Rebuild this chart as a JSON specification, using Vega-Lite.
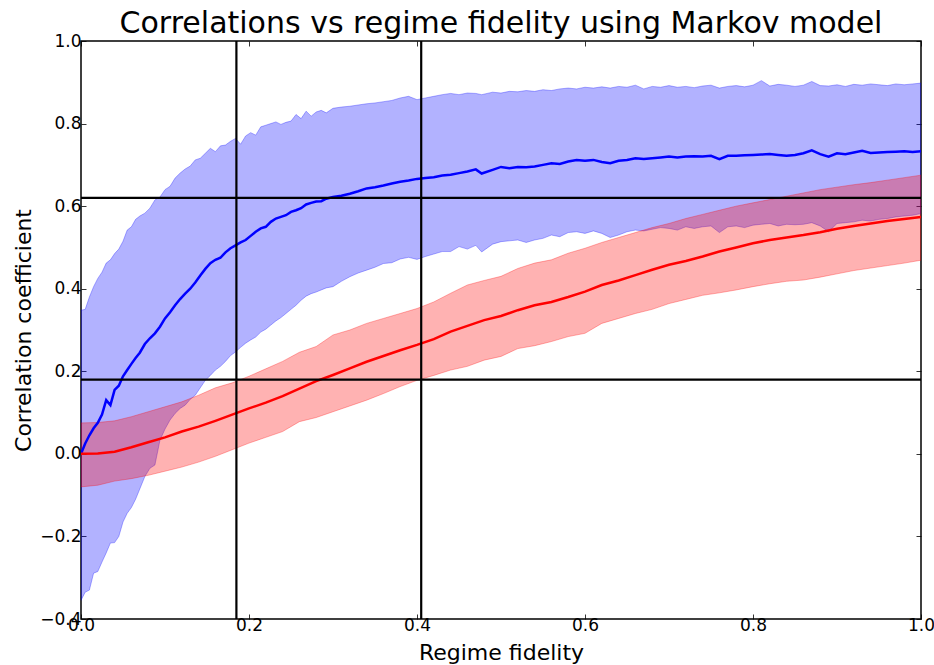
{
  "$schema": "https://vega.github.io/schema/vega-lite/v6.json",
  "width": 840,
  "height": 578,
  "autosize": "none",
  "padding": {"left": 81, "top": 41, "right": 13, "bottom": 46},
  "background": "white",
  "title": {"text": "Correlations vs regime fidelity using Markov model", "fontSize": 30, "font": "DejaVu Sans", "fontWeight": "normal", "color": "black", "anchor": "middle", "offset": 6, "dy": 13},
  "config": {
    "font": "DejaVu Sans",
    "view": {"stroke": "black", "strokeWidth": 1.5}
  },
  "datasets": {
    "blue": [
      {"x":0.000,"m":0.000,"lo":-0.355,"hi":0.348},{"x":0.005,"m":0.025,"lo":-0.335,"hi":0.350},{"x":0.010,"m":0.045,"lo":-0.330,"hi":0.380},{"x":0.015,"m":0.062,"lo":-0.289,"hi":0.405},{"x":0.020,"m":0.075,"lo":-0.285,"hi":0.425},{"x":0.025,"m":0.095,"lo":-0.262,"hi":0.440},{"x":0.030,"m":0.130,"lo":-0.240,"hi":0.462},{"x":0.035,"m":0.118,"lo":-0.216,"hi":0.470},{"x":0.040,"m":0.155,"lo":-0.215,"hi":0.485},{"x":0.045,"m":0.165,"lo":-0.200,"hi":0.496},{"x":0.050,"m":0.188,"lo":-0.165,"hi":0.515},{"x":0.055,"m":0.203,"lo":-0.144,"hi":0.542},{"x":0.060,"m":0.218,"lo":-0.130,"hi":0.550},{"x":0.065,"m":0.232,"lo":-0.110,"hi":0.568},{"x":0.070,"m":0.245,"lo":-0.085,"hi":0.576},{"x":0.076,"m":0.266,"lo":-0.055,"hi":0.583},{"x":0.082,"m":0.280,"lo":-0.035,"hi":0.595},{"x":0.088,"m":0.292,"lo":-0.027,"hi":0.615},{"x":0.094,"m":0.308,"lo":0.033,"hi":0.622},{"x":0.100,"m":0.328,"lo":0.060,"hi":0.640},{"x":0.106,"m":0.343,"lo":0.082,"hi":0.648},{"x":0.112,"m":0.360,"lo":0.098,"hi":0.668},{"x":0.118,"m":0.375,"lo":0.110,"hi":0.680},{"x":0.124,"m":0.388,"lo":0.118,"hi":0.690},{"x":0.130,"m":0.400,"lo":0.132,"hi":0.697},{"x":0.136,"m":0.415,"lo":0.142,"hi":0.712},{"x":0.142,"m":0.432,"lo":0.160,"hi":0.716},{"x":0.148,"m":0.448,"lo":0.178,"hi":0.728},{"x":0.154,"m":0.462,"lo":0.190,"hi":0.740},{"x":0.160,"m":0.470,"lo":0.203,"hi":0.732},{"x":0.166,"m":0.475,"lo":0.212,"hi":0.746},{"x":0.172,"m":0.488,"lo":0.224,"hi":0.748},{"x":0.178,"m":0.498,"lo":0.238,"hi":0.757},{"x":0.184,"m":0.505,"lo":0.247,"hi":0.764},{"x":0.190,"m":0.512,"lo":0.258,"hi":0.750},{"x":0.196,"m":0.518,"lo":0.268,"hi":0.770},{"x":0.202,"m":0.528,"lo":0.276,"hi":0.778},{"x":0.208,"m":0.538,"lo":0.283,"hi":0.772},{"x":0.214,"m":0.546,"lo":0.295,"hi":0.792},{"x":0.220,"m":0.550,"lo":0.302,"hi":0.796},{"x":0.226,"m":0.562,"lo":0.312,"hi":0.800},{"x":0.232,"m":0.570,"lo":0.322,"hi":0.804},{"x":0.238,"m":0.574,"lo":0.330,"hi":0.798},{"x":0.244,"m":0.578,"lo":0.340,"hi":0.803},{"x":0.250,"m":0.586,"lo":0.350,"hi":0.806},{"x":0.256,"m":0.590,"lo":0.360,"hi":0.822},{"x":0.262,"m":0.595,"lo":0.372,"hi":0.812},{"x":0.268,"m":0.604,"lo":0.382,"hi":0.830},{"x":0.274,"m":0.608,"lo":0.388,"hi":0.818},{"x":0.280,"m":0.611,"lo":0.392,"hi":0.828},{"x":0.286,"m":0.612,"lo":0.397,"hi":0.832},{"x":0.292,"m":0.618,"lo":0.402,"hi":0.826},{"x":0.300,"m":0.622,"lo":0.405,"hi":0.837},{"x":0.310,"m":0.625,"lo":0.418,"hi":0.840},{"x":0.320,"m":0.630,"lo":0.429,"hi":0.842},{"x":0.330,"m":0.636,"lo":0.438,"hi":0.845},{"x":0.340,"m":0.643,"lo":0.445,"hi":0.848},{"x":0.350,"m":0.646,"lo":0.452,"hi":0.850},{"x":0.360,"m":0.650,"lo":0.461,"hi":0.853},{"x":0.370,"m":0.655,"lo":0.463,"hi":0.856},{"x":0.380,"m":0.659,"lo":0.472,"hi":0.862},{"x":0.390,"m":0.662,"lo":0.476,"hi":0.866},{"x":0.400,"m":0.666,"lo":0.471,"hi":0.858},{"x":0.410,"m":0.668,"lo":0.478,"hi":0.862},{"x":0.420,"m":0.670,"lo":0.484,"hi":0.866},{"x":0.430,"m":0.674,"lo":0.490,"hi":0.870},{"x":0.440,"m":0.676,"lo":0.490,"hi":0.873},{"x":0.450,"m":0.680,"lo":0.502,"hi":0.870},{"x":0.460,"m":0.684,"lo":0.496,"hi":0.874},{"x":0.470,"m":0.689,"lo":0.505,"hi":0.873},{"x":0.477,"m":0.679,"lo":0.489,"hi":0.870},{"x":0.490,"m":0.688,"lo":0.508,"hi":0.876},{"x":0.500,"m":0.695,"lo":0.514,"hi":0.874},{"x":0.510,"m":0.692,"lo":0.516,"hi":0.878},{"x":0.520,"m":0.695,"lo":0.518,"hi":0.877},{"x":0.530,"m":0.694,"lo":0.512,"hi":0.880},{"x":0.540,"m":0.696,"lo":0.518,"hi":0.878},{"x":0.550,"m":0.700,"lo":0.522,"hi":0.882},{"x":0.560,"m":0.704,"lo":0.530,"hi":0.880},{"x":0.570,"m":0.702,"lo":0.526,"hi":0.884},{"x":0.580,"m":0.708,"lo":0.536,"hi":0.886},{"x":0.590,"m":0.712,"lo":0.538,"hi":0.884},{"x":0.600,"m":0.710,"lo":0.534,"hi":0.888},{"x":0.610,"m":0.712,"lo":0.540,"hi":0.886},{"x":0.620,"m":0.707,"lo":0.534,"hi":0.889},{"x":0.630,"m":0.704,"lo":0.524,"hi":0.886},{"x":0.640,"m":0.710,"lo":0.530,"hi":0.890},{"x":0.650,"m":0.712,"lo":0.538,"hi":0.888},{"x":0.660,"m":0.716,"lo":0.542,"hi":0.893},{"x":0.670,"m":0.714,"lo":0.540,"hi":0.884},{"x":0.680,"m":0.716,"lo":0.544,"hi":0.890},{"x":0.690,"m":0.718,"lo":0.548,"hi":0.888},{"x":0.700,"m":0.720,"lo":0.546,"hi":0.892},{"x":0.710,"m":0.718,"lo":0.542,"hi":0.888},{"x":0.720,"m":0.720,"lo":0.550,"hi":0.890},{"x":0.730,"m":0.721,"lo":0.546,"hi":0.887},{"x":0.740,"m":0.720,"lo":0.550,"hi":0.891},{"x":0.750,"m":0.722,"lo":0.552,"hi":0.893},{"x":0.760,"m":0.714,"lo":0.536,"hi":0.886},{"x":0.770,"m":0.722,"lo":0.550,"hi":0.890},{"x":0.780,"m":0.722,"lo":0.552,"hi":0.892},{"x":0.790,"m":0.723,"lo":0.548,"hi":0.889},{"x":0.800,"m":0.724,"lo":0.554,"hi":0.893},{"x":0.810,"m":0.725,"lo":0.556,"hi":0.904},{"x":0.820,"m":0.726,"lo":0.558,"hi":0.891},{"x":0.830,"m":0.724,"lo":0.552,"hi":0.895},{"x":0.840,"m":0.722,"lo":0.556,"hi":0.893},{"x":0.850,"m":0.724,"lo":0.555,"hi":0.890},{"x":0.860,"m":0.728,"lo":0.556,"hi":0.893},{"x":0.870,"m":0.735,"lo":0.560,"hi":0.902},{"x":0.880,"m":0.726,"lo":0.552,"hi":0.892},{"x":0.890,"m":0.720,"lo":0.538,"hi":0.891},{"x":0.900,"m":0.728,"lo":0.558,"hi":0.894},{"x":0.910,"m":0.726,"lo":0.560,"hi":0.890},{"x":0.920,"m":0.730,"lo":0.562,"hi":0.895},{"x":0.930,"m":0.734,"lo":0.566,"hi":0.893},{"x":0.940,"m":0.729,"lo":0.564,"hi":0.896},{"x":0.950,"m":0.730,"lo":0.568,"hi":0.894},{"x":0.960,"m":0.731,"lo":0.570,"hi":0.892},{"x":0.970,"m":0.732,"lo":0.574,"hi":0.896},{"x":0.980,"m":0.733,"lo":0.576,"hi":0.894},{"x":0.990,"m":0.731,"lo":0.578,"hi":0.896},{"x":1.000,"m":0.733,"lo":0.582,"hi":0.898}
    ],
    "red": [
      {"x":0.00,"m":0.000,"lo":-0.080,"hi":0.075},{"x":0.02,"m":0.001,"lo":-0.076,"hi":0.076},{"x":0.04,"m":0.005,"lo":-0.066,"hi":0.080},{"x":0.06,"m":0.016,"lo":-0.060,"hi":0.090},{"x":0.08,"m":0.028,"lo":-0.052,"hi":0.102},{"x":0.10,"m":0.040,"lo":-0.042,"hi":0.114},{"x":0.12,"m":0.054,"lo":-0.032,"hi":0.126},{"x":0.14,"m":0.066,"lo":-0.020,"hi":0.142},{"x":0.16,"m":0.080,"lo":-0.006,"hi":0.160},{"x":0.18,"m":0.095,"lo":0.010,"hi":0.172},{"x":0.20,"m":0.110,"lo":0.026,"hi":0.188},{"x":0.22,"m":0.124,"lo":0.040,"hi":0.206},{"x":0.24,"m":0.140,"lo":0.054,"hi":0.224},{"x":0.26,"m":0.158,"lo":0.078,"hi":0.246},{"x":0.28,"m":0.176,"lo":0.088,"hi":0.260},{"x":0.30,"m":0.191,"lo":0.102,"hi":0.288},{"x":0.32,"m":0.207,"lo":0.116,"hi":0.300},{"x":0.34,"m":0.223,"lo":0.130,"hi":0.316},{"x":0.36,"m":0.237,"lo":0.146,"hi":0.328},{"x":0.38,"m":0.251,"lo":0.163,"hi":0.340},{"x":0.40,"m":0.264,"lo":0.178,"hi":0.352},{"x":0.42,"m":0.278,"lo":0.190,"hi":0.368},{"x":0.44,"m":0.296,"lo":0.203,"hi":0.389},{"x":0.46,"m":0.310,"lo":0.212,"hi":0.409},{"x":0.48,"m":0.324,"lo":0.227,"hi":0.420},{"x":0.50,"m":0.334,"lo":0.236,"hi":0.430},{"x":0.52,"m":0.348,"lo":0.255,"hi":0.449},{"x":0.54,"m":0.360,"lo":0.262,"hi":0.462},{"x":0.56,"m":0.368,"lo":0.272,"hi":0.470},{"x":0.58,"m":0.380,"lo":0.284,"hi":0.486},{"x":0.60,"m":0.393,"lo":0.292,"hi":0.498},{"x":0.62,"m":0.409,"lo":0.316,"hi":0.512},{"x":0.64,"m":0.420,"lo":0.328,"hi":0.524},{"x":0.66,"m":0.433,"lo":0.340,"hi":0.536},{"x":0.68,"m":0.446,"lo":0.350,"hi":0.548},{"x":0.70,"m":0.458,"lo":0.364,"hi":0.558},{"x":0.72,"m":0.467,"lo":0.374,"hi":0.570},{"x":0.74,"m":0.478,"lo":0.384,"hi":0.580},{"x":0.76,"m":0.490,"lo":0.390,"hi":0.590},{"x":0.78,"m":0.500,"lo":0.397,"hi":0.600},{"x":0.80,"m":0.510,"lo":0.405,"hi":0.608},{"x":0.82,"m":0.518,"lo":0.412,"hi":0.616},{"x":0.84,"m":0.524,"lo":0.418,"hi":0.624},{"x":0.86,"m":0.530,"lo":0.421,"hi":0.632},{"x":0.88,"m":0.537,"lo":0.428,"hi":0.640},{"x":0.90,"m":0.545,"lo":0.436,"hi":0.646},{"x":0.92,"m":0.552,"lo":0.444,"hi":0.652},{"x":0.94,"m":0.558,"lo":0.450,"hi":0.657},{"x":0.96,"m":0.564,"lo":0.456,"hi":0.663},{"x":0.98,"m":0.569,"lo":0.462,"hi":0.669},{"x":1.00,"m":0.574,"lo":0.469,"hi":0.675}
    ],
    "vlines": [{"v": 0.185}, {"v": 0.405}],
    "hlines": [{"v": 0.62}, {"v": 0.18}]
  },
  "resolve": {"axis": {"x": "independent", "y": "independent"}},
  "layer": [
    {
      "data": {"name": "blue"},
      "mark": {"type": "area", "color": "#0000ff", "fillOpacity": 0.3, "stroke": "#0000ff", "strokeOpacity": 0.3, "strokeWidth": 1, "clip": true},
      "encoding": {
        "x": {"field": "x", "type": "quantitative", "scale": {"domain": [0, 1], "nice": false, "zero": false}, "axis": {"orient": "bottom", "values": [0, 0.2, 0.4, 0.6, 0.8, 1.0], "format": ".1f", "title": "Regime fidelity", "grid": false, "domain": false, "tickSize": -5, "tickColor": "black", "tickWidth": 0.8, "labelFont": "DejaVu Sans", "labelFontSize": 17, "labelColor": "black", "labelFlush": false, "labelOverlap": false, "labelBound": false, "labelPadding": 3, "titleFont": "DejaVu Sans", "titleFontSize": 22, "titleFontWeight": "normal", "titleColor": "black", "titlePadding": 9}},
        "y": {"field": "lo", "type": "quantitative", "scale": {"domain": [-0.4, 1.0], "nice": false, "zero": false}, "axis": {"orient": "left", "values": [-0.4, -0.2, 0, 0.2, 0.4, 0.6, 0.8, 1.0], "labelExpr": "replace(format(datum.value, '.1f'), '-', '\u2212')", "title": "Correlation coefficient", "grid": false, "domain": false, "tickSize": -5, "tickColor": "black", "tickWidth": 0.8, "labelFont": "DejaVu Sans", "labelFontSize": 17, "labelColor": "black", "labelFlush": false, "labelOverlap": false, "labelBound": false, "labelPadding": 5, "titleFont": "DejaVu Sans", "titleFontSize": 22, "titleFontWeight": "normal", "titleColor": "black", "titlePadding": 4}},
        "y2": {"field": "hi"}
      }
    },
    {
      "data": {"name": "red"},
      "mark": {"type": "area", "color": "#ff0000", "fillOpacity": 0.3, "stroke": "#ff0000", "strokeOpacity": 0.3, "strokeWidth": 1, "clip": true},
      "encoding": {
        "x": {"field": "x", "type": "quantitative", "axis": {"orient": "top", "values": [0, 0.2, 0.4, 0.6, 0.8, 1.0], "labels": false, "title": null, "grid": false, "domain": false, "tickSize": -5, "tickColor": "black", "tickWidth": 0.8}},
        "y": {"field": "lo", "type": "quantitative", "axis": {"orient": "right", "values": [-0.4, -0.2, 0, 0.2, 0.4, 0.6, 0.8, 1.0], "labels": false, "title": null, "grid": false, "domain": false, "tickSize": -5, "tickColor": "black", "tickWidth": 0.8}},
        "y2": {"field": "hi"}
      }
    },
    {
      "data": {"name": "blue"},
      "mark": {"type": "line", "color": "#0000ff", "strokeWidth": 2.5, "clip": true},
      "encoding": {
        "x": {"field": "x", "type": "quantitative", "axis": null},
        "y": {"field": "m", "type": "quantitative", "axis": null}
      }
    },
    {
      "data": {"name": "red"},
      "mark": {"type": "line", "color": "#ff0000", "strokeWidth": 2.5, "clip": true},
      "encoding": {
        "x": {"field": "x", "type": "quantitative", "axis": null},
        "y": {"field": "m", "type": "quantitative", "axis": null}
      }
    },
    {
      "data": {"name": "vlines"},
      "mark": {"type": "rule", "color": "black", "strokeWidth": 2.2},
      "encoding": {
        "x": {"field": "v", "type": "quantitative", "axis": null}
      }
    },
    {
      "data": {"name": "hlines"},
      "mark": {"type": "rule", "color": "black", "strokeWidth": 2.2},
      "encoding": {
        "y": {"field": "v", "type": "quantitative", "axis": null}
      }
    }
  ]
}
